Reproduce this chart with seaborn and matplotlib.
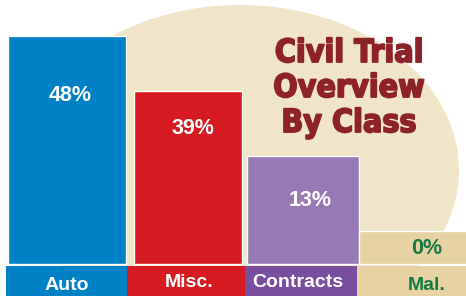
import matplotlib
matplotlib.use("Agg")
import matplotlib.pyplot as plt
import matplotlib.patheffects as pe
from matplotlib import font_manager
from matplotlib.patches import Ellipse
import seaborn as sns
import pandas as pd

# data
categories = ["Auto", "Misc.", "Contracts", "Mal."]
percent = [48, 39, 13, 0]
# bar heights as drawn in the original (it is not to scale)
bar_height = [48, 36.4, 22.7, 6.9]
title_lines = ["Civil Trial", "Overview", "By Class"]

# styles
bar_colors = ["#0081C6", "#D61A21", "#977AB5", "#E6D2A2"]
strip_colors = ["#0081C6", "#D61A21", "#7A4E9F", "#E6D2A2"]
text_colors = ["white", "white", "white", "#177A43"]
bar_w = [1.026, 0.939, 0.974, 0.96]
bar_dx = [-0.026, 0.026, 0.026, -0.01]
strip_w = [1.052, 1.026, 0.991, 0.96]
strip_dx = [-0.03, 0.009, 0.017, -0.02]
pct_dx = [0.0, 0.07, 0.09, 0.10]
pct_drop = [13.7, 9.0, 10.5, 4.8]
cat_dx = [-0.03, 0.04, -0.02, 0.10]
cat_base = [-5.47, -4.84, -4.84, -5.47]

sns.set_theme(style="white")
plt.rcParams["font.family"] = ["Liberation Sans", "DejaVu Sans"]

# narrow heavy face for the title, if one is around
fonts = font_manager.fontManager.ttflist
if any(f.name == "Liberation Sans Narrow" for f in fonts):
    title_font = dict(family="Liberation Sans Narrow", fontsize=25)
elif any(f.name == "DejaVu Sans" and f.stretch == "condensed" for f in fonts):
    title_font = dict(family="DejaVu Sans", fontstretch="condensed", fontsize=23)
else:
    title_font = dict(family="DejaVu Sans", fontsize=19.5)

fig = plt.figure(figsize=(4.66, 2.96), dpi=100)

# background blob, in pixel coords
bg = fig.add_axes([0, 0, 1, 1])
bg.set_xlim(0, 466)
bg.set_ylim(296, 0)
bg.axis("off")
bg.add_patch(Ellipse((240, 170), 438, 330, color="#F0E4C9", lw=0))

for k, line in enumerate(title_lines):
    bg.text(349, 62 + 35 * k, line, ha="center", va="baseline",
            fontweight="bold", color="#8E2229",
            path_effects=[pe.withStroke(linewidth=1.3, foreground="#8E2229")],
            **title_font)

# bars
ax = fig.add_axes([0, 0, 1, 1])
ax.patch.set_alpha(0)
df = pd.DataFrame({"cls": categories, "h": bar_height})
sns.barplot(data=df, x="cls", y="h", hue="cls", palette=bar_colors,
            legend=False, width=0.96, saturation=1, ax=ax)
for i, p in enumerate(ax.patches):
    p.set_width(bar_w[i])
    p.set_x(i + bar_dx[i] - bar_w[i] / 2)

# category strip under the bars
for i in range(len(categories)):
    ax.bar(i + strip_dx[i], 6.32, bottom=-6.74, width=strip_w[i],
           color=strip_colors[i], lw=0)

for i, cat in enumerate(categories):
    ax.text(i + pct_dx[i], bar_height[i] - pct_drop[i], f"{percent[i]}%",
            ha="center", va="baseline", fontsize=15.5, fontweight="bold",
            color=text_colors[i])
    ax.text(i + cat_dx[i], cat_base[i], cat, ha="center", va="baseline",
            fontsize=14, fontweight="bold", color=text_colors[i])

ax.set_xlim(-0.6087, 3.4435)
ax.set_ylim(-6.74, 55.58)
ax.axis("off")

plt.savefig("out.png", dpi=100)
